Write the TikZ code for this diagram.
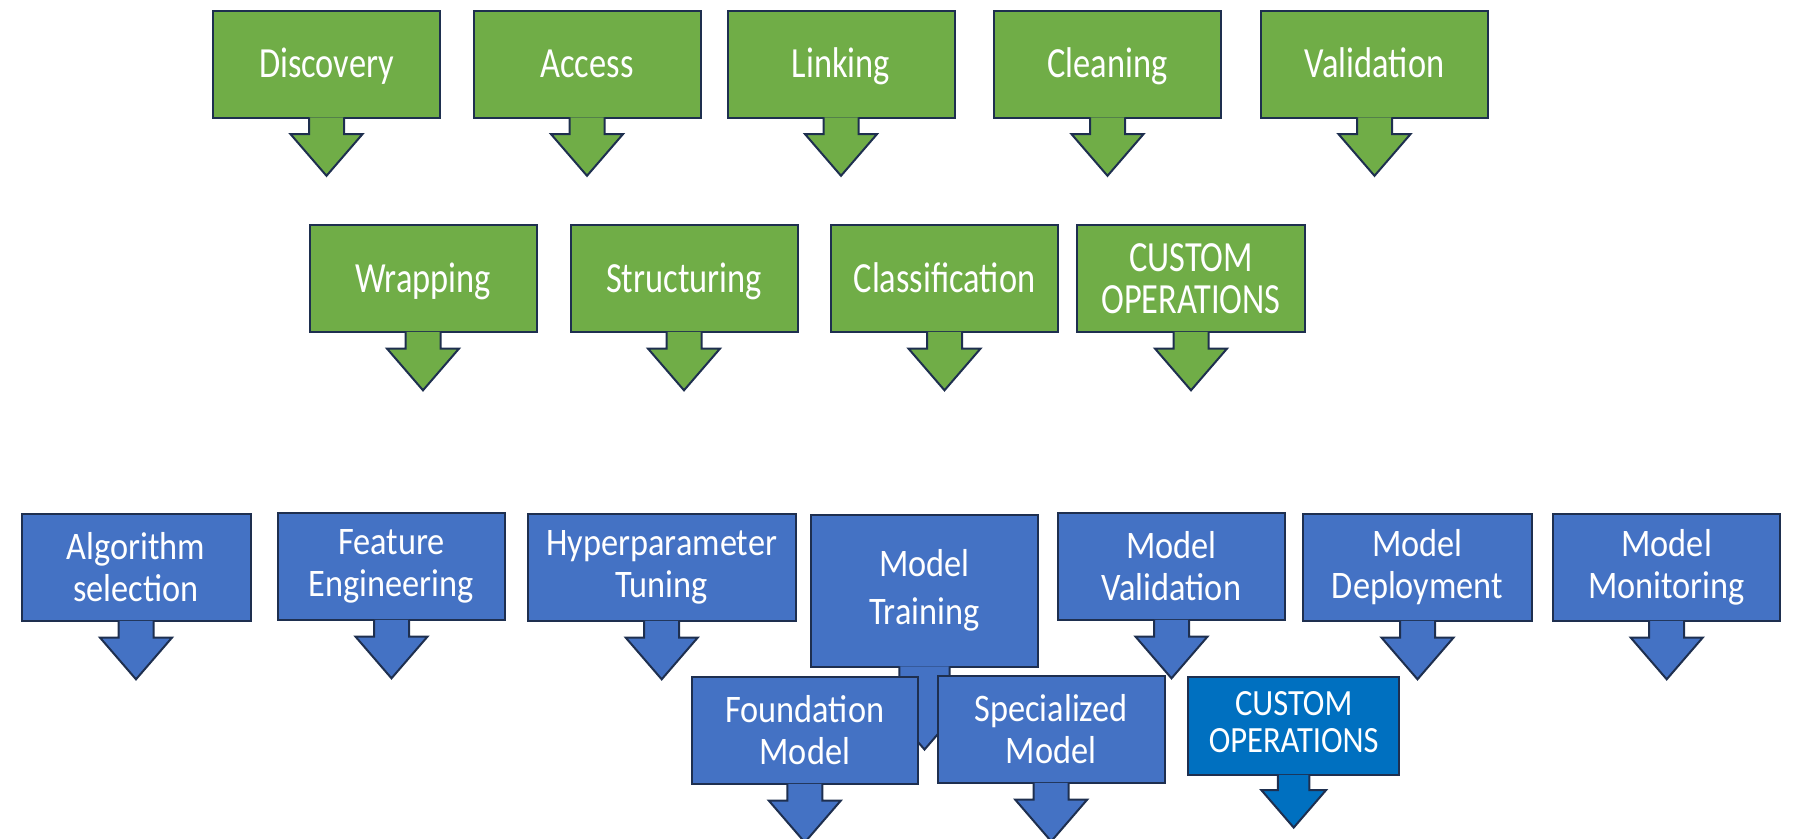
\documentclass[tikz,border=0pt]{standalone}
\usepackage{fontspec}
\newfontfamily\greenfont{Carlito}[FakeStretch=0.80]
\newfontfamily\bluefont{Carlito}[FakeStretch=0.88]
\definecolor{edge}{HTML}{1E2F4F}
\definecolor{leaf}{HTML}{70AD47}
\definecolor{sky}{HTML}{4472C4}
\definecolor{deep}{HTML}{0070C0}
% pointer hanging under a box: node, style, size factor
\newcommand{\dropptr}[3]{%
  \filldraw[#2] (#1.south) ++(-17.5*#3,-1.2) -- ++(0,15.6*#3+1.2) -- ++(-18.5*#3,0)
    -- ++(36*#3,41.7*#3) -- ++(36*#3,-41.7*#3) -- ++(-18.5*#3,0) -- ++(0,-15.6*#3-1.2);}
\begin{document}
\begin{tikzpicture}[x=1pt, y=-1pt, line width=2pt,
    box/.style = {draw=edge, text=white, inner sep=0pt, align=center, minimum width=227, minimum height=107},
    gbox/.style = {box, fill=leaf, font=\greenfont\fontsize{43}{42}\selectfont},
    bbox/.style = {box, fill=sky, font=\bluefont\fontsize{39}{42}\selectfont},
    dbox/.style = {box, fill=deep, font=\bluefont\fontsize{37}{37}\selectfont},
    oneline/.style = {text height=27pt, text depth=0pt},
    gptr/.style = {draw=edge, fill=leaf},
    bptr/.style = {draw=edge, fill=sky},
    dptr/.style = {draw=edge, fill=deep}]
    \useasboundingbox (0,0) rectangle (1793,838);

    % data steps
    \node[gbox, oneline] (disc) at (326.5,64) {Discovery};
    \node[gbox, oneline] (acc) at (587,64) {Access};
    \node[gbox, oneline] (link) at (841,64) {Linking};
    \node[gbox, oneline] (clean) at (1107.5,64) {Cleaning};
    \node[gbox, oneline] (valid) at (1374.5,64) {Validation};
    \dropptr{disc}{gptr}{1}
    \dropptr{acc}{gptr}{1}
    \dropptr{link}{gptr}{1}
    \dropptr{clean}{gptr}{1}
    \dropptr{valid}{gptr}{1}

    \node[gbox, oneline] (wrap) at (423,278.5) {Wrapping};
    \node[gbox, oneline] (struct) at (684,278.5) {Structuring};
    \node[gbox, oneline] (class) at (944.5,278.5) {Classification};
    \node[gbox, minimum width=228] (gcust) at (1191,278.5) {CUSTOM\\OPERATIONS};
    \dropptr{wrap}{gptr}{1}
    \dropptr{struct}{gptr}{1}
    \dropptr{class}{gptr}{1}
    \dropptr{gcust}{gptr}{1}

    % model steps
    \node[bbox, minimum width=229] (algo) at (136,567.5) {Algorithm\\selection};
    \node[bbox] (feat) at (391.5,566.5) {Feature\\Engineering};
    \node[bbox, minimum width=268] (hyper) at (661.7,567.5) {Hyperparameter\\Tuning};
    \node[bbox, minimum height=152, font=\bluefont\fontsize{39}{48}\selectfont] (train) at (924.5,590.6) {Model\\Training};
    \node[bbox] (mval) at (1171.5,566.5) {Model\\Validation};
    \node[bbox, minimum width=228.5] (mdep) at (1417.5,567.5) {Model\\Deployment};
    \node[bbox] (mmon) at (1666.7,567.5) {Model\\Monitoring};
    \dropptr{algo}{bptr}{1}
    \dropptr{feat}{bptr}{1}
    \dropptr{hyper}{bptr}{1}
    \dropptr{train}{bptr}{1.43}
    \dropptr{mval}{bptr}{1}
    \dropptr{mdep}{bptr}{1}
    \dropptr{mmon}{bptr}{1}

    \node[bbox, minimum width=226.5] (found) at (804.8,730.5) {Foundation\\Model};
    \node[bbox] (spec) at (1051.2,729.5) {Specialized\\Model};
    \node[dbox, minimum width=210.7, minimum height=98, text depth=9pt] (bcust) at (1293.7,726) {CUSTOM\\OPERATIONS};
    \dropptr{found}{bptr}{1}
    \dropptr{spec}{bptr}{1}
    \dropptr{bcust}{dptr}{0.9}

\end{tikzpicture}
\end{document}
